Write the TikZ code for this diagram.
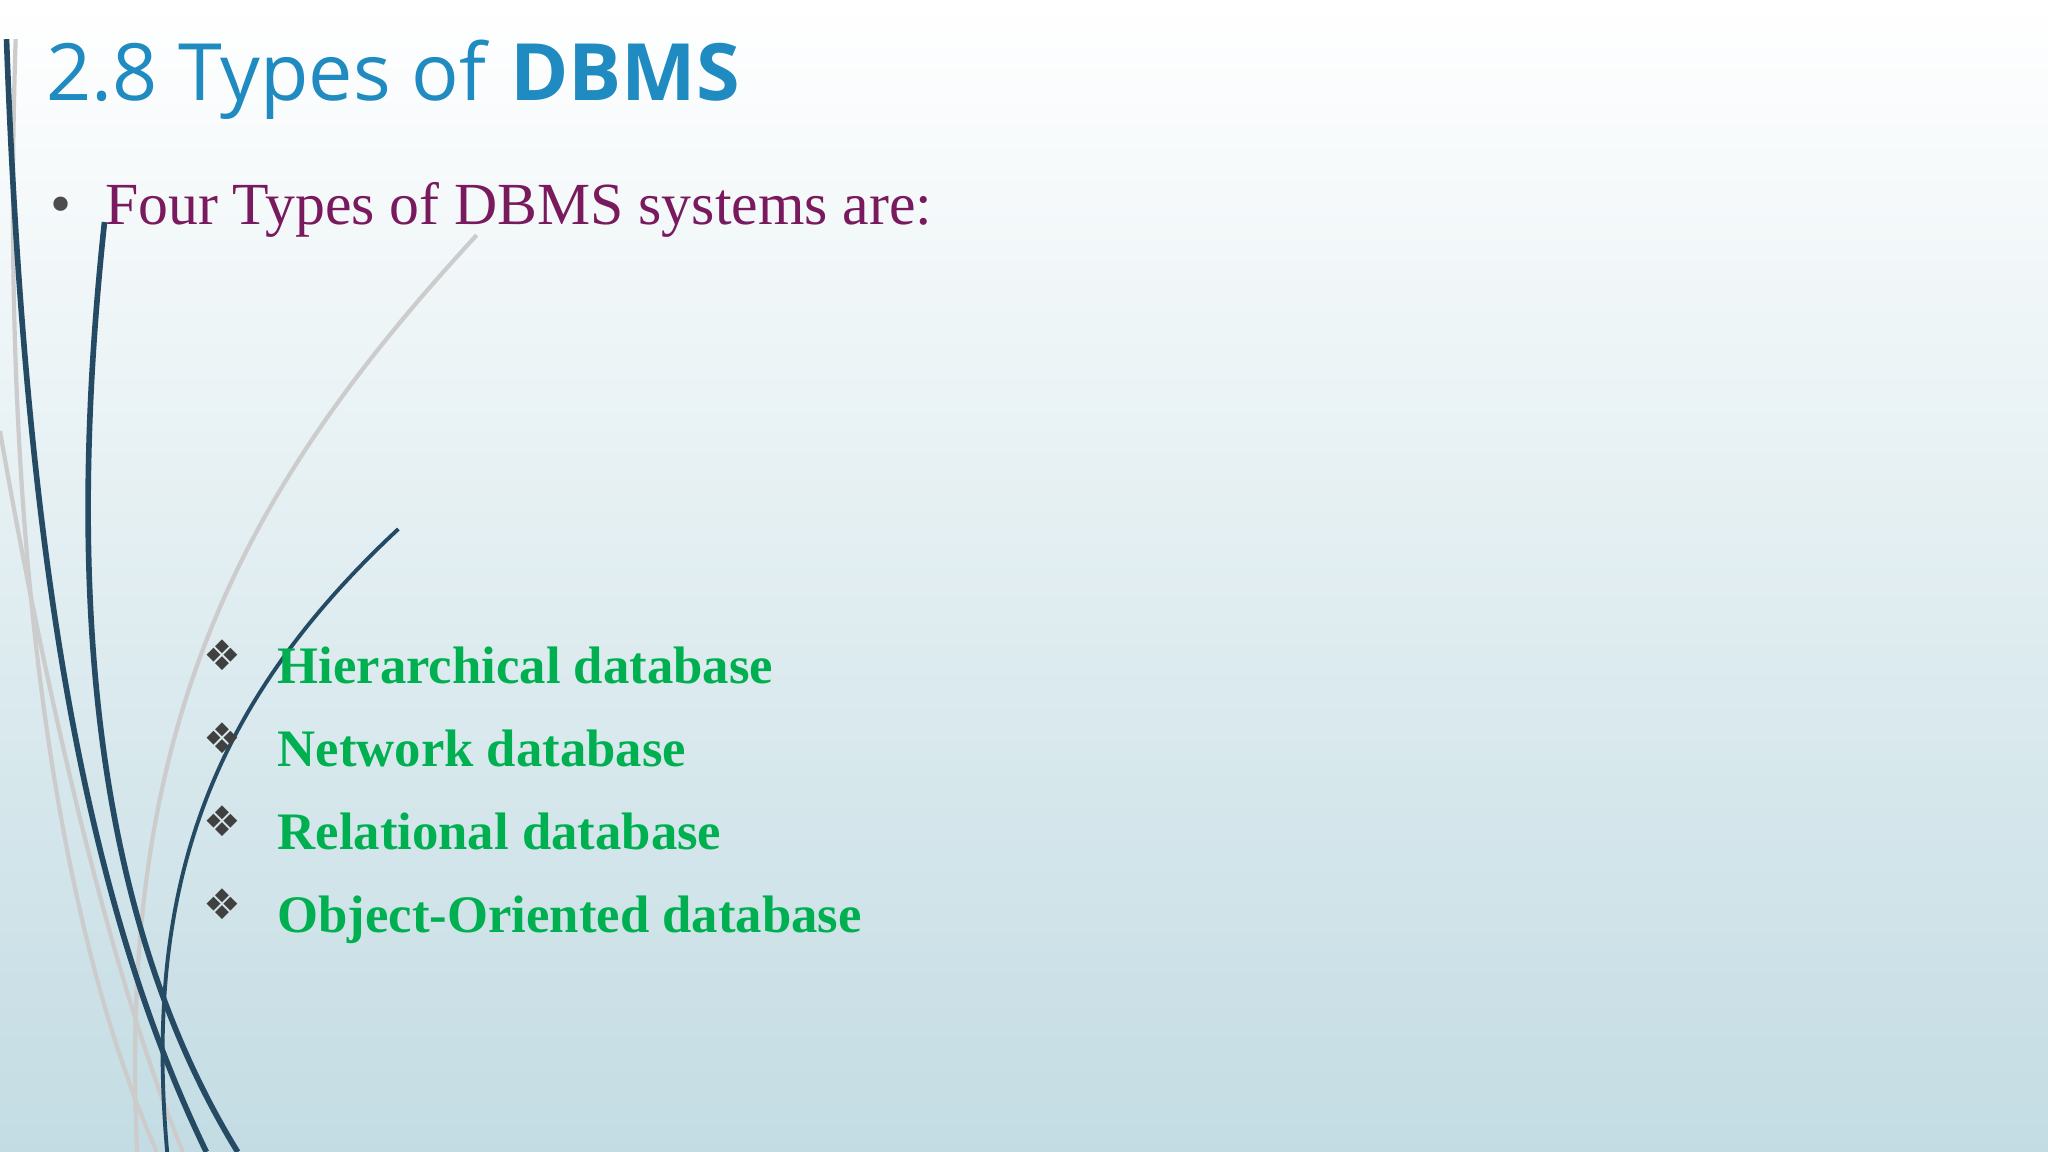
\documentclass[tikz,border=0pt]{standalone}
\usepackage{fontspec}
\setmainfont{Liberation Serif}
\newfontfamily\titlefont{Open Sans}
\newfontfamily\symfont{DejaVu Sans}
\definecolor{titleblue}{HTML}{1F8BC0}
\definecolor{plum}{HTML}{7A1A5E}
\definecolor{itemgreen}{HTML}{00B050}
\definecolor{navy}{HTML}{254A63}
\definecolor{bgbottom}{HTML}{C3DCE3}
\tikzset{
  item/.style={anchor=base west, text=itemgreen, font=\fontsize{15}{18}\selectfont\bfseries, inner sep=0pt},
  sym/.style={anchor=base west, text=black!75, font=\symfont\fontsize{12}{16}\selectfont, inner sep=0pt},
  curve/.style={navy, line width=1.6pt},
  faint/.style={gray!40, line width=1.2pt}
}
\begin{document}
\begin{tikzpicture}[x=0.013061cm, y=-0.013061cm]
  \shade[top color=white, bottom color=bgbottom, middle color=white!50!bgbottom] (0,0) rectangle (1568,882);
  \useasboundingbox (0,0) rectangle (1568,882);
  % lines on the left
  \draw[faint] (365,180) .. controls (180,380) and (90,560) .. (105,882);
  \draw[faint] (0,330) .. controls (40,560) and (90,760) .. (140,882);
  \draw[faint] (12,30) .. controls (0,400) and (40,700) .. (120,882);
  \draw[curve] (5,30) .. controls (20,450) and (70,700) .. (158,882);
  \draw[curve] (80,170) .. controls (50,450) and (70,700) .. (182,882);
  \draw[navy, line width=1.1pt] (305,405) .. controls (160,540) and (110,680) .. (128,882);
  % texts
  \node[anchor=base west, inner sep=0pt, font=\titlefont\fontsize{22.5}{28}\selectfont, text=titleblue]
    (title) at (35,77) {2.8 Types of \textbf{DBMS}};
  \node[anchor=base west, inner sep=0pt, font=\fontsize{17}{20}\selectfont, text=plum]
    (intro) at (80,172) {Four Types of DBMS systems are:};
  \node[anchor=base west, inner sep=0pt, font=\symfont\fontsize{14}{16}\selectfont, text=black!70]
    (dot) at (35,170) {•};
  \foreach \t [count=\i] in {Hierarchical database, Network database, Relational database, Object-Oriented database} {
    \node[sym] (s\i) at (155, 450+63.5*\i) {❖};
    \node[item] (t\i) at (212, 460+63.5*\i) {\t};
  }
\end{tikzpicture}
\end{document}
